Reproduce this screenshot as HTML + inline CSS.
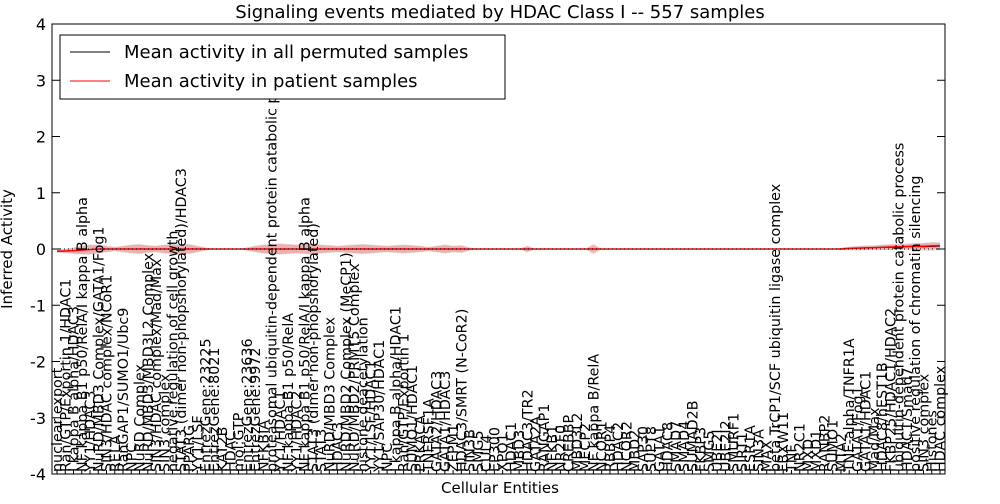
<!DOCTYPE html>
<html><head><meta charset="utf-8"><style>
body{margin:0;background:#fff;font-family:"DejaVu Sans",sans-serif}
svg text{font-family:"DejaVu Sans",sans-serif}
</style></head><body>
<svg id="chart" width="1000" height="500" xmlns="http://www.w3.org/2000/svg">
<text x="500" y="18" font-size="18" text-anchor="middle">Signaling events mediated by HDAC Class I -- 557 samples</text>
<g id="bands"></g><g id="lines"></g><g id="labels"></g><g id="axes"></g>
<rect x="52" y="24" width="893" height="450" fill="none" stroke="#000" stroke-width="1"/>
<text x="12" y="249" font-size="15" text-anchor="middle" transform="rotate(-90 12 249)">Inferred Activity</text>
<text x="500" y="493" font-size="15" text-anchor="middle">Cellular Entities</text>
<g>
<rect x="60" y="35" width="445" height="64" fill="#fff" stroke="#000"/>
<line x1="70" y1="52" x2="110" y2="52" stroke="#000"/>
<text x="124" y="58" font-size="18">Mean activity in all permuted samples</text>
<line x1="70" y1="81" x2="110" y2="81" stroke="red"/>
<text x="124" y="87" font-size="18">Mean activity in patient samples</text>
</g>
</svg>
<script>
const labels=["nuclear export","Ran/GTP/Exportin 1/HDAC1","I kappa B alpha/HDAC3","NF kappa B1 p50/RelA/I kappa B alpha","YY1/HDAC3","NuRD/MBD3 Complex/GATA1/Fog1","SIN3/HDAC complex/NCoR1","RELA","RanGAP1/SUMO1/Ubc9","NPC","NuRD Complex","NuRD/MBD3/MBD3L2 Complex","SIN3/HDAC complex/Mad/Max","SIN3 complex","negative regulation of cell growth","STAT3 (dimer non-phopshorylated)/HDAC3","PPARG","YY1/LSF","EntrezGene:23225","EntrezGene:8021","KAT2B","HDAC","mol:GTP","EntrezGene:23636","EntrezGene:9972","NFKBIA","proteasomal ubiquitin-dependent protein catabolic process","YY1/HDAC1","NF kappa B1 p50/RelA","YY1/HDAC2","NF kappa B1 p50/RelA/I kappa B alpha","STAT3 (dimer non-phopshorylated)","STAT3","NuRD/MBD3 Complex","HDAC3","NuRD/MBD2 Complex (MeCP1)","NuRD/MBD2/PRMT5 Complex","histone deacetylation","YY1/LSF/HDAC1","YY1/SAP30/HDAC1","NPC","I kappa B alpha/HDAC1","Ran/GTP/Exportin 1","SUMO1/HDAC1","PRKACA","TNFRSF1A","GATA2/HDAC3","GATA1/HDAC3","ZFPM1","HDAC3/SMRT (N-CoR2)","SIN3B","SMG5","CUL4","EP300","XPO1","HDAC1","MBD3","HDAC3/TR2","GATA2A","RANGAP1","NFKB1","NR2F0","CREBBP","MBD3L2","MECP2","NF kappa B/RelA","NCOR1","RBBP4","HDAC2","NCOR2","MBD2","SAP30","SUPT8","GATA1","HDAC8","SMAD7","SMAD4","SUMAD2B","FKBP3","SMG5","UBE2I","UBE2I2","SMURF1","SIRT1","ESR1A","SIN3A","MAX","beta TrCP1/SCF ubiquitin ligase complex","FBXW11","TNF","NR2C1","MXD","MXD1","RANBP2","SUMO1","MTA2","TNF-alpha/TNFR1A","GATA1/Fog1","GATA1/HDAC1","Mad/Max","HDAC8/hEST1B","FKBP25/HDAC1/HDAC2","ubiquitin-dependent protein catabolic process","HDAC1/Smad7","positive regulation of chromatin silencing","SIN3 complex","Histones","HDAC complex"];
const patientMean=[-0.04,-0.035,-0.03,-0.02,-0.01,0,0,0,0,0,0,0,0,0,0,0,0,0,0,0,0,0,0,0,0,0,0,0,0,0,0,0,0,0,0,0,0,0,0,0,0,0,0,0,0,0,0,0,0,0,0,0,0,0,0,0,0,0,0,0,0,0,0,0,0,0,0,0,0,0,0,0,0,0,0,0,0,0,0,0,0,0,0,0,0,0,0,0,0,0,0,0,0,0,0,0,0.01,0.015,0.02,0.025,0.03,0.035,0.04,0.045,0.05,0.05,0.055,0.06,0.06];
const permMean=[-0.04,-0.035,-0.03,-0.02,-0.01,0,0,0,0,0,0,0,0,0,0,0,0,0,0,0,0,0,0,0,0,0,0,0,0,0,0,0,0,0,0,0,0,0,0,0,0,0,0,0,0,0,0,0,0,0,0,0,0,0,0,0,0,0,0,0,0,0,0,0,0,0,0,0,0,0,0,0,0,0,0,0,0,0,0,0,0,0,0,0,0,0,0,0,0,0,0,0,0,0,0,0,0.01,0.015,0.02,0.025,0.03,0.03,0.035,0.04,0.045,0.04,0.045,0.05,0.05];
const patientSpread=[0.02,0.03,0.05,0.07,0.08,0.07,0.05,0.03,0.05,0.07,0.08,0.06,0.05,0.07,0.08,0.07,0.08,0.05,0.02,0,0,0,0,0.02,0.05,0.07,0.08,0.09,0.08,0.07,0.08,0.09,0.07,0.06,0.05,0.06,0.07,0.08,0.07,0.06,0.05,0.06,0.07,0.06,0.05,0.03,0.05,0.07,0.05,0.06,0.02,0,0,0,0,0,0,0.05,0,0,0,0,0,0,0,0.09,0,0,0,0,0,0,0,0,0,0,0,0,0,0,0,0,0,0,0,0,0,0,0,0,0,0,0,0,0,0.02,0.03,0.03,0.04,0.03,0.04,0.05,0.04,0.04,0.05,0.05,0.06,0.05,0.04];
const permSpread=[0.03,0.04,0.06,0.08,0.09,0.08,0.06,0.04,0.06,0.08,0.09,0.07,0.06,0.08,0.09,0.08,0.09,0.06,0.03,0,0,0,0,0.03,0.06,0.08,0.09,0.1,0.09,0.08,0.09,0.1,0.08,0.07,0.06,0.07,0.08,0.09,0.08,0.07,0.06,0.07,0.08,0.07,0.06,0.04,0.06,0.08,0.06,0.07,0.03,0,0,0,0,0,0,0.06,0,0,0,0,0,0,0,0.06,0,0,0,0,0,0,0,0,0,0,0,0,0,0,0,0,0,0,0,0,0,0,0,0,0,0,0,0,0,0.02,0.03,0.04,0.04,0.04,0.05,0.05,0.05,0.06,0.06,0.07,0.08,0.07,0.06];
const yTicks=[4,3,2,1,0,-1,-2,-3,-4];
const NS="http://www.w3.org/2000/svg";
const X0=57,X1=940,Y0=24,Y1=474;
const n=labels.length;
function xs(i){return X0+(X1-X0)*i/(n-1);}
function ys(v){return Y0+(4-v)/8*(Y1-Y0);}
function val(a,i){return i<a.length?a[i]:a[a.length-1];}
function mk(t,a,p){const e=document.createElementNS(NS,t);for(const k in a)e.setAttribute(k,a[k]);p.appendChild(e);return e;}
const axes=document.getElementById('axes');
yTicks.forEach(v=>{
 const y=ys(v);
 const g=mk('g',{},axes);
 
 
 mk('line',{x1:52,x2:60,y1:y,y2:y,stroke:'#000'},g);
 mk('line',{x1:937,x2:945,y1:y,y2:y,stroke:'#000'},g);
 const t=mk('text',{x:46,y:y+6,'font-size':16,'text-anchor':'end'},g);t.textContent=v;
});
const zl=mk('line',{x1:52,x2:945,y1:ys(0),y2:ys(0),stroke:'#000','stroke-dasharray':'1,3'},axes);


function band(mean,spr,col,name){
 let up=[],dn=[];
 for(let i=0;i<n;i++){const m=val(mean,i),s=val(spr,i);up.push(xs(i)+','+ys(m+s));dn.unshift(xs(i)+','+ys(m-s));}
 const p=mk('polygon',{points:up.concat(dn).join(' '),fill:col,'fill-opacity':0.35,stroke:'none'},document.getElementById('bands'));
 
 
}
band(permMean,permSpread,'#aaa','perm-band');
band(patientMean,patientSpread,'#f55','patient-band');
function line(mean,col,w,name){
 const pts=[];for(let i=0;i<n;i++)pts.push(xs(i)+','+ys(val(mean,i)));
 const l=mk('polyline',{points:pts.join(' '),fill:'none',stroke:col,'stroke-width':w},document.getElementById('lines'));
 
 
}
line(permMean,'#000',1,'perm-mean-line');
line(patientMean,'red',1.5,'patient-mean-line');
const lg=document.getElementById('labels');
labels.forEach((s,i)=>{
 const x=xs(i)+5;
 const t=mk('text',{x:x,y:472,'font-size':14.3,transform:'rotate(-90 '+x+' 472)'},lg);
 
 
 t.textContent=s;
 const tk=mk('line',{x1:xs(i),x2:xs(i),y1:474,y2:470,stroke:'#000'},lg);
 
 
});
</script>
</body></html>
